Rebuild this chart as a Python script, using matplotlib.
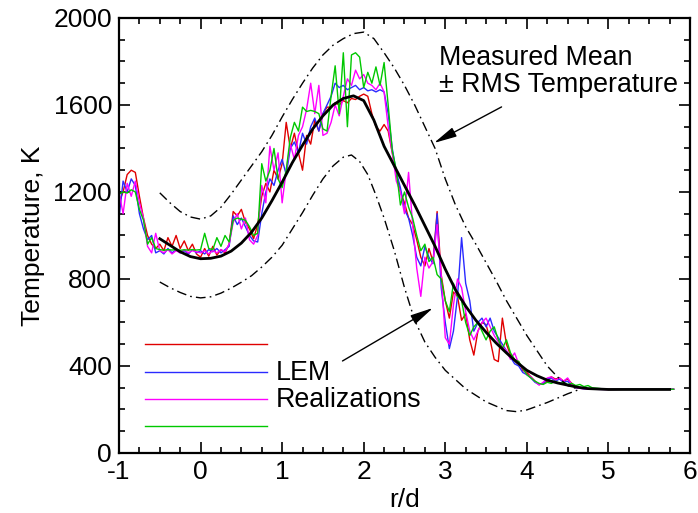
import numpy as np
import matplotlib
matplotlib.use('Agg')
import matplotlib.pyplot as plt

plt.rcParams['font.family'] = ['Liberation Sans', 'DejaVu Sans']
plt.rcParams['axes.unicode_minus'] = False

# --- measured mean and +/- rms envelopes ---
x_mean = [-0.5, -0.375, -0.25, -0.125, 0.0, 0.125, 0.25, 0.375, 0.5, 0.625, 0.75, 0.875,
          1.0, 1.125, 1.25, 1.375, 1.5, 1.625, 1.75, 1.875, 2.0, 2.125, 2.25, 2.375,
          2.5, 2.625, 2.75, 2.875, 3.0, 3.125, 3.25, 3.375, 3.5, 3.625, 3.75, 3.875,
          4.0, 4.125, 4.25, 4.375, 4.5, 4.625, 4.75, 5.0, 5.5, 5.75]
t_mean = [985, 955, 925, 903, 893, 895, 905, 928, 965, 1015, 1080, 1160,
          1245, 1335, 1415, 1490, 1550, 1600, 1630, 1642, 1620, 1530, 1410, 1320,
          1230, 1140, 1045, 950, 845, 750, 675, 610, 555, 505, 460, 418,
          380, 355, 335, 322, 312, 302, 296, 292, 292, 292]

x_upper = [-0.5, -0.375, -0.25, -0.125, 0.0, 0.125, 0.25, 0.375, 0.5, 0.625, 0.75, 0.875,
           1.0, 1.125, 1.25, 1.375, 1.5, 1.625, 1.75, 1.875, 2.0, 2.125, 2.25, 2.375,
           2.5, 2.625, 2.75, 2.875, 3.0, 3.125, 3.25, 3.375, 3.5, 3.625, 3.75, 3.875,
           4.0, 4.125, 4.25, 4.375, 4.5, 4.625]
t_upper = [1196, 1150, 1110, 1085, 1075, 1090, 1130, 1190, 1255, 1320, 1385, 1460,
           1545, 1625, 1700, 1770, 1830, 1875, 1905, 1928, 1935, 1905, 1840, 1770,
           1690, 1600, 1500, 1400, 1260, 1140, 1040, 960, 875, 790, 700, 620,
           540, 470, 400, 350, 310, 294]

x_lower = [-0.5, -0.375, -0.25, -0.125, 0.0, 0.125, 0.25, 0.375, 0.5, 0.625, 0.75, 0.875,
           1.0, 1.125, 1.25, 1.375, 1.5, 1.625, 1.75, 1.85, 1.95, 2.05, 2.15, 2.25,
           2.375, 2.5, 2.625, 2.75, 2.875, 3.0, 3.25, 3.5, 3.75, 3.875, 4.0, 4.25,
           4.5, 4.65]
t_lower = [786, 760, 738, 720, 713, 718, 735, 758, 785, 815, 855, 900,
           955, 1030, 1105, 1185, 1260, 1320, 1360, 1370, 1340, 1280, 1185, 1080,
           930, 760, 610, 510, 440, 380, 295, 235, 195, 190, 198, 232,
           272, 293]

# --- LEM realizations, sampled every 0.05 from -1.0 to 4.8, plus a flat tail ---
x_tail = [5.0, 5.25, 5.5, 5.8]
t_tail = [292, 293, 293, 293]

t_red = [
    1150, 1200, 1280, 1300, 1290, 1180, 1080, 1000, 960, 940, 960, 930, 990, 950, 1000, 940, 975, 930, 960, 915,
    900, 940, 905, 950, 910, 935, 920, 960, 1110, 1090, 1120, 1060, 1030, 985, 1050, 1180, 1240, 1200, 1300, 1260,
    1330, 1520, 1400, 1470, 1380, 1300, 1460, 1420, 1530, 1480, 1560, 1590, 1590, 1610, 1600, 1620, 1610, 1630, 1625, 1640,
    1650, 1640, 1560, 1500, 1480, 1510, 1480, 1380, 1280, 1200, 1150, 1080, 1050, 980, 900, 860, 940, 880, 1110, 820,
    700, 620, 740, 720, 610, 640, 520, 450, 560, 600, 590, 520, 430, 420, 620, 500, 450, 430, 420, 380,
    370, 350, 330, 315, 320, 330, 350, 340, 345, 330, 340, 320, 305, 300, 298, 295, 294]

t_blue = [
    1080, 1250, 1200, 1260, 1230, 1100, 1030, 980, 1000, 920, 930, 915, 940, 920, 935, 920, 930, 915, 935, 920,
    930, 915, 935, 925, 940, 920, 935, 950, 1090, 1050, 1080, 1040, 1000, 975, 970, 1100, 1200, 1260, 1230, 1300,
    1350, 1280, 1400, 1430, 1380, 1470, 1420, 1500, 1540, 1480, 1560, 1600, 1640, 1700, 1680, 1690, 1670, 1680, 1690, 1670,
    1680, 1665, 1670, 1660, 1670, 1660, 1560, 1400, 1290, 1220, 1120, 1080, 1000, 900, 860, 950, 900, 870, 1100, 760,
    600, 480, 560, 720, 990, 780, 700, 560, 600, 620, 580, 620, 560, 530, 500, 470, 440, 410, 400, 370,
    360, 345, 325, 315, 320, 340, 345, 330, 340, 325, 330, 310, 300, 298, 295, 294, 293]

t_magenta = [
    1200, 1100, 1240, 1180, 1250, 1150, 1080, 950, 920, 1010, 930, 920, 935, 915, 930, 920, 935, 920, 930, 925,
    920, 930, 915, 930, 920, 935, 925, 960, 1060, 1100, 1030, 1080, 980, 960, 1000, 1230, 1150, 1410, 1300, 1380,
    1150, 1300, 1420, 1350, 1460, 1500, 1580, 1700, 1560, 1690, 1460, 1470, 1520, 1600, 1550, 1640, 1720, 1690, 1760, 1720,
    1740, 1700, 1690, 1670, 1700, 1660, 1500, 1380, 1250, 1200, 1100, 1290, 1050, 850, 720, 900, 850, 880, 1050, 820,
    530, 500, 680, 800, 760, 650, 560, 520, 560, 600, 620, 580, 540, 510, 490, 470, 430, 460, 410, 390,
    360, 350, 330, 312, 325, 345, 350, 335, 345, 330, 345, 315, 300, 297, 295, 294, 293]

t_green = [
    1190, 1200, 1195, 1210, 1200, 1120, 1070, 960, 990, 940, 935, 932, 935, 933, 935, 932, 934, 933, 935, 933,
    935, 1010, 940, 935, 990, 950, 1000, 970, 1070, 1080, 1075, 1070, 1040, 1000, 1010, 1330, 1250, 1300, 1400, 1260,
    1220, 1300, 1450, 1520, 1480, 1590, 1570, 1575, 1570, 1560, 1490, 1480, 1640, 1780, 1560, 1840, 1500, 1830, 1840, 1820,
    1680, 1750, 1700, 1775, 1690, 1795, 1600, 1390, 1300, 1140, 1200, 1130, 1080, 1000, 930, 960, 880, 900, 820, 800,
    700, 650, 780, 720, 700, 600, 540, 580, 600, 560, 520, 560, 580, 520, 480, 520, 460, 430, 420, 390,
    360, 345, 330, 320, 315, 325, 320, 330, 320, 325, 315, 320, 310, 315, 305, 310, 300]

x_real = list(np.round(np.arange(-1.0, 4.801, 0.05), 2)) + x_tail

series = [
    (t_red, '#e00000'),
    (t_blue, '#2a2aff'),
    (t_magenta, '#ff00ff'),
    (t_green, '#00c800'),
]

# key lines for the realizations
key_x = [-0.68, 0.82]
key_y = [500, 372, 248, 124]

fig = plt.figure(figsize=(6.98, 5.13), dpi=100)
ax = fig.add_axes([0.1705, 0.117, 0.818, 0.848])

for (vals, col), ky in zip(series, key_y):
    ax.plot(x_real, vals + t_tail, color=col, lw=1.0)
    ax.plot(key_x, [ky, ky], color=col, lw=1.0)

dashdot = (0, (7, 3, 1.2, 3))
ax.plot(x_upper, t_upper, color='black', lw=1.0, ls=dashdot)
ax.plot(x_lower, t_lower, color='black', lw=1.0, ls=dashdot)
ax.plot(x_mean, t_mean, color='black', lw=2.0)

fs = 19.3
ax.text(0.92, 336, 'LEM', fontsize=fs, va='baseline', ha='left')
ax.text(0.92, 212, 'Realizations', fontsize=fs, va='baseline', ha='left')
ax.text(2.92, 1784, 'Measured Mean', fontsize=fs, va='baseline', ha='left')
ax.text(2.92, 1660, '\u00b1 RMS Temperature', fontsize=fs, va='baseline', ha='left')

arrow = dict(arrowstyle='-|>,head_length=0.7,head_width=0.15', color='black', lw=1.0,
             mutation_scale=20, shrinkA=0, shrinkB=0)
ax.annotate('', xy=(2.86, 1425), xytext=(3.69, 1591), arrowprops=arrow)
ax.annotate('', xy=(2.85, 667), xytext=(1.74, 423), arrowprops=arrow)

ax.set_xlim(-1, 6)
ax.set_ylim(0, 2000)
ax.set_xticks(range(-1, 7))
ax.set_yticks(range(0, 2001, 400))
ax.set_xticks(np.arange(-1, 6.01, 0.25), minor=True)
ax.set_yticks(range(0, 2001, 100), minor=True)
ax.tick_params(which='both', direction='in', top=True, right=True, labelsize=19, width=1.2)
ax.tick_params(which='major', length=8, pad=5)
ax.tick_params(which='minor', length=4)
for s in ax.spines.values():
    s.set_linewidth(1.6)

ax.set_xlabel('r/d', fontsize=19, labelpad=3)
ax.set_ylabel('Temperature, K', fontsize=19, labelpad=6)

fig.savefig('out.png', dpi=100)
